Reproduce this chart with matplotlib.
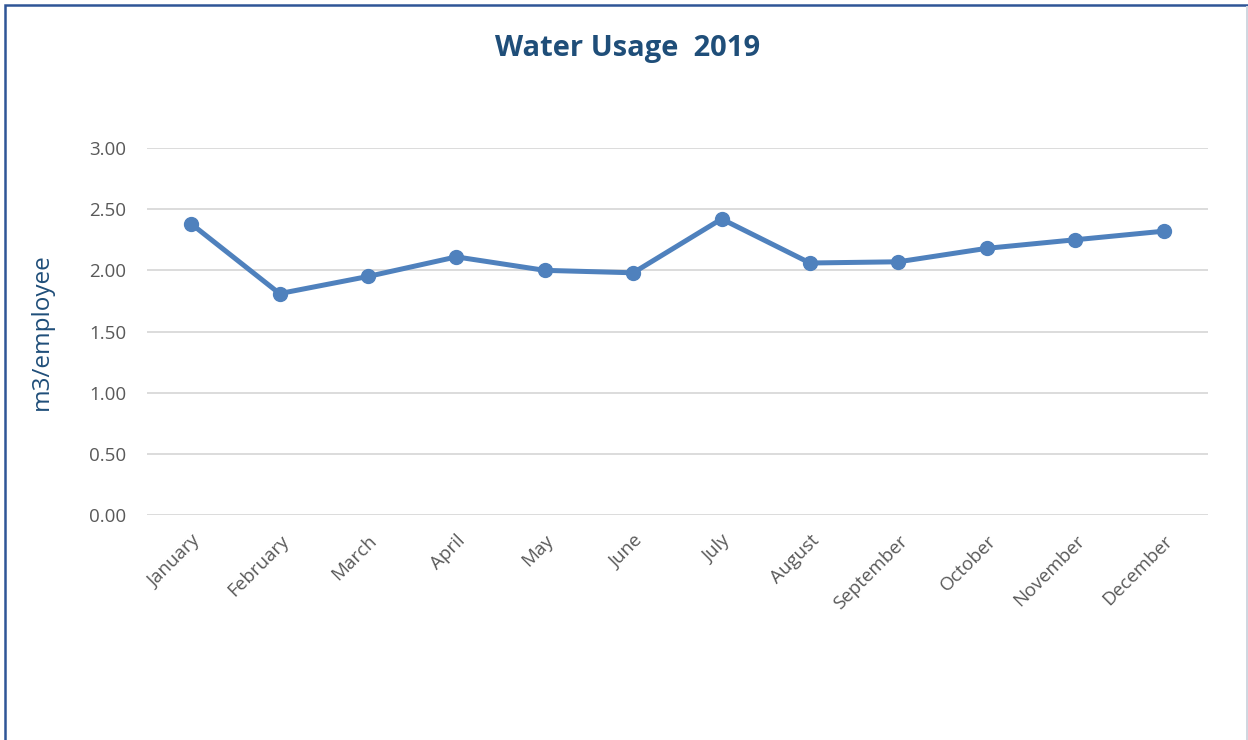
import numpy as np
import matplotlib.pyplot as plt
from matplotlib.patches import Rectangle

# data
months = ["January", "February", "March", "April", "May", "June",
          "July", "August", "September", "October", "November", "December"]
usage = [2.38, 1.81, 1.95, 2.11, 2.00, 1.98, 2.42, 2.06, 2.07, 2.18, 2.25, 2.32]
yticks = [0.0, 0.5, 1.0, 1.5, 2.0, 2.5, 3.0]

plt.rcParams['font.family'] = ['Open Sans', 'DejaVu Sans']

fig = plt.figure(figsize=(12.48, 7.4), dpi=100)
ax = fig.add_axes([0.1178, 0.304, 0.850, 0.496])

x = np.arange(len(months))
ax.plot(x, usage, color="#4F81BD", linewidth=3.6, marker="o", markersize=10,
        solid_capstyle="round", zorder=3)

ax.set_xlim(-0.5, len(months) - 0.5)
ax.set_ylim(0, 3.0)
ax.set_yticks(yticks)
ax.set_yticklabels([f"{v:.2f}" for v in yticks])
ax.set_xticks(x)
ax.set_xticklabels(months, rotation=45, ha="right", rotation_mode="anchor")
ax.tick_params(axis="both", length=0, labelsize=13.5, labelcolor="#595959")
ax.tick_params(axis="y", pad=15)
ax.tick_params(axis="x", pad=12)

ax.grid(axis="y", color="#D9D9D9", linewidth=1.3)
ax.set_axisbelow(True)
for s in ax.spines.values():
    s.set_visible(False)

ax.set_ylabel("m3/employee", fontsize=17.5, color="#1F4E79", labelpad=25)

fig.text(0.503, 0.935, "Water Usage  2019", ha="center", va="center",
         fontsize=21, fontweight="bold", color="#1F4E79")

# outer chart frame (bottom and right are cut off in the original)
fig.patches.append(Rectangle((5 / 1248, -0.05), 1.0, 1.05 - 4.5 / 740,
                             transform=fig.transFigure, fill=False,
                             edgecolor="#2F5597", linewidth=1.8))
fig.patches.append(Rectangle((1246 / 1248, 0), 2 / 1248, 1 - 5.5 / 740,
                             transform=fig.transFigure, facecolor="#D0D7E0",
                             edgecolor="none"))

fig.savefig("out.png", dpi=100)
